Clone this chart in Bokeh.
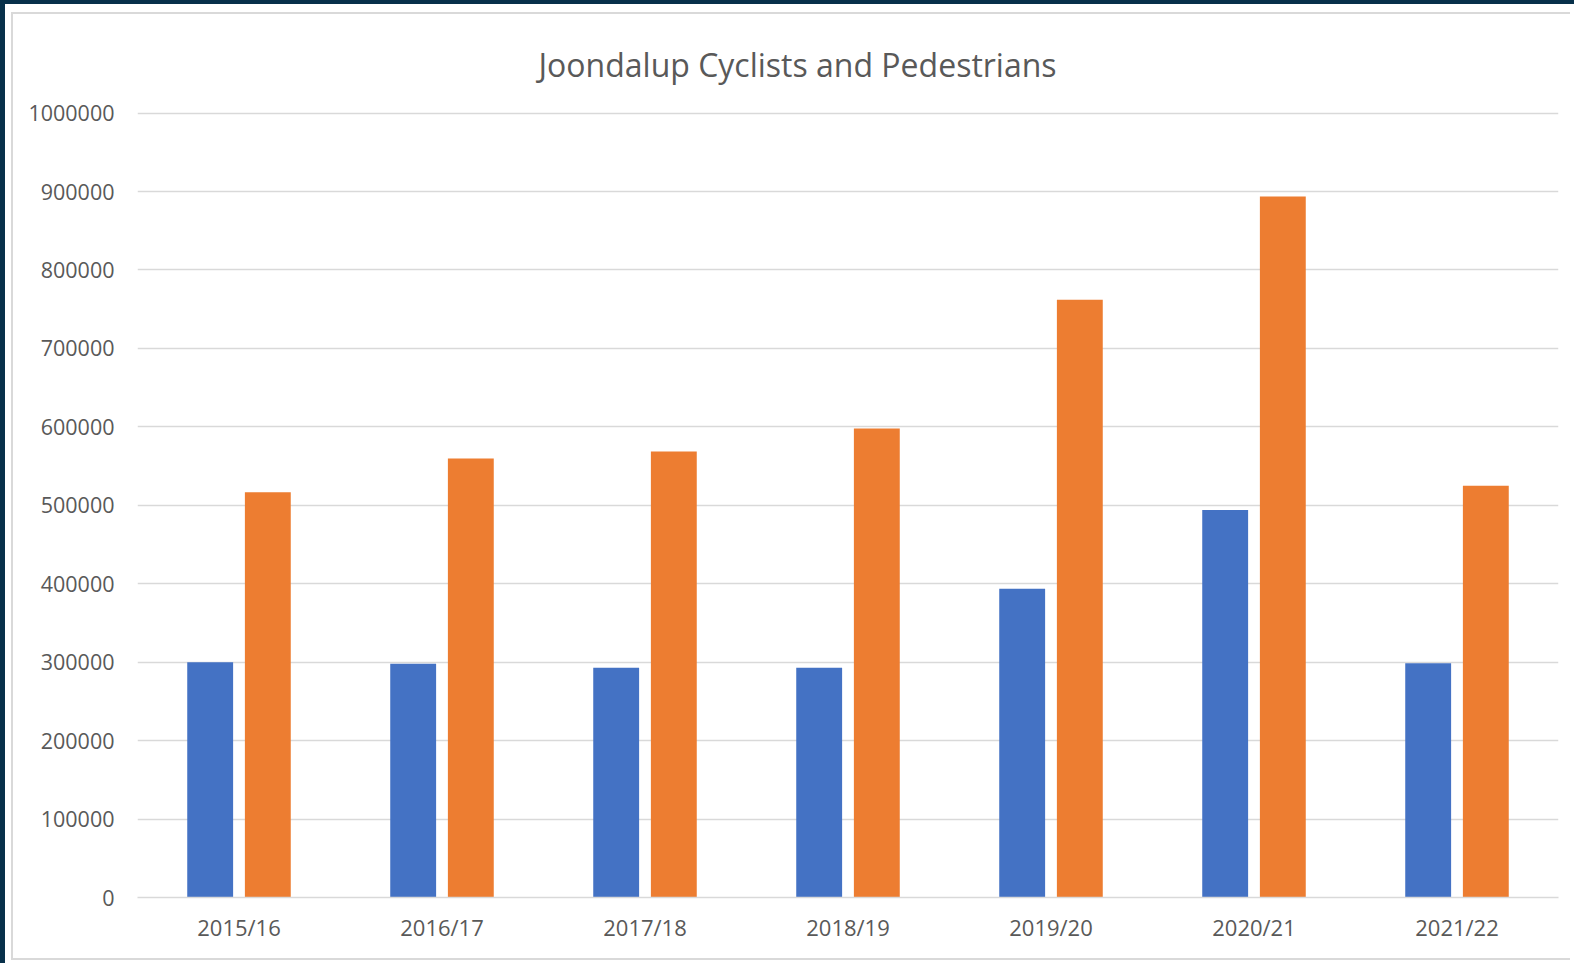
from bokeh.plotting import figure
from bokeh.models import Range1d, FactorRange, FixedTicker, ColumnDataSource, GlobalInlineStyleSheet
from bokeh.transform import dodge
from bokeh.embed import file_html
from bokeh.resources import INLINE

title_text = "Joondalup Cyclists and Pedestrians"
years = ["2015/16", "2016/17", "2017/18", "2018/19", "2019/20", "2020/21", "2021/22"]
cyclists = [300000, 298000, 293000, 293000, 393500, 494000, 298500]
pedestrians = [516500, 559500, 568500, 598000, 762000, 893500, 525000]
y_ticks = [0, 100000, 200000, 300000, 400000, 500000, 600000, 700000, 800000, 900000, 1000000]
y_labels = [str(t) for t in y_ticks]

TEXT = "#595959"
GRID = "#d9d9d9"
FONT = "Open Sans"

src = ColumnDataSource(dict(year=years, cyc=cyclists, ped=pedestrians))

css = GlobalInlineStyleSheet(css="""
html { border-left: 5px solid #07304a; border-top: 4px solid #07304a; overflow: hidden; background: white; }
body { margin: 8px 0 0 6px; }
""")

p = figure(
    x_range=FactorRange(factors=years),
    y_range=Range1d(0, 1002000),
    width=1559, height=948,
    output_backend="svg", toolbar_location=None,
    min_border_left=124, min_border_right=14, min_border_top=91, min_border_bottom=65,
    title=title_text,
    styles={"border-left": "2px solid #d9d9d9", "border-top": "2px solid #d9d9d9",
            "border-bottom": "2px solid #d9d9d9"},
    stylesheets=[css],
)
p.background_fill_color = "white"
p.border_fill_color = "white"
p.outline_line_color = None

p.title.text_font = FONT
p.title.text_font_size = "32px"
p.title.text_font_style = "normal"
p.title.text_color = TEXT
p.title.align = "left"
p.title.offset = 401
p.title.standoff = 52

p.vbar(x=dodge("year", -0.142, range=p.x_range), top="cyc", width=0.226, source=src,
       fill_color="#4472C4", line_color=None)
p.vbar(x=dodge("year", 0.142, range=p.x_range), top="ped", width=0.226, source=src,
       fill_color="#ED7D31", line_color=None)

p.xgrid.grid_line_color = None
p.ygrid.ticker = FixedTicker(ticks=y_ticks)
p.ygrid.grid_line_color = GRID
p.ygrid.grid_line_width = 1.5

p.yaxis.ticker = FixedTicker(ticks=y_ticks)
p.yaxis.major_label_overrides = {t: l for t, l in zip(y_ticks, y_labels)}
p.yaxis.axis_line_color = None
p.yaxis.major_tick_line_color = None
p.yaxis.minor_tick_line_color = None
p.yaxis.major_label_standoff = 17
p.yaxis.major_label_text_font = FONT
p.yaxis.major_label_text_font_size = "21.5px"
p.yaxis.major_label_text_color = TEXT

p.xaxis.axis_line_color = GRID
p.xaxis.axis_line_width = 1.5
p.xaxis.major_tick_line_color = None
p.xaxis.minor_tick_line_color = None
p.xaxis.major_label_standoff = 8
p.xaxis.major_label_text_font = FONT
p.xaxis.major_label_text_font_size = "22px"
p.xaxis.major_label_text_color = TEXT

open("out.html", "w").write(file_html(p, INLINE))
